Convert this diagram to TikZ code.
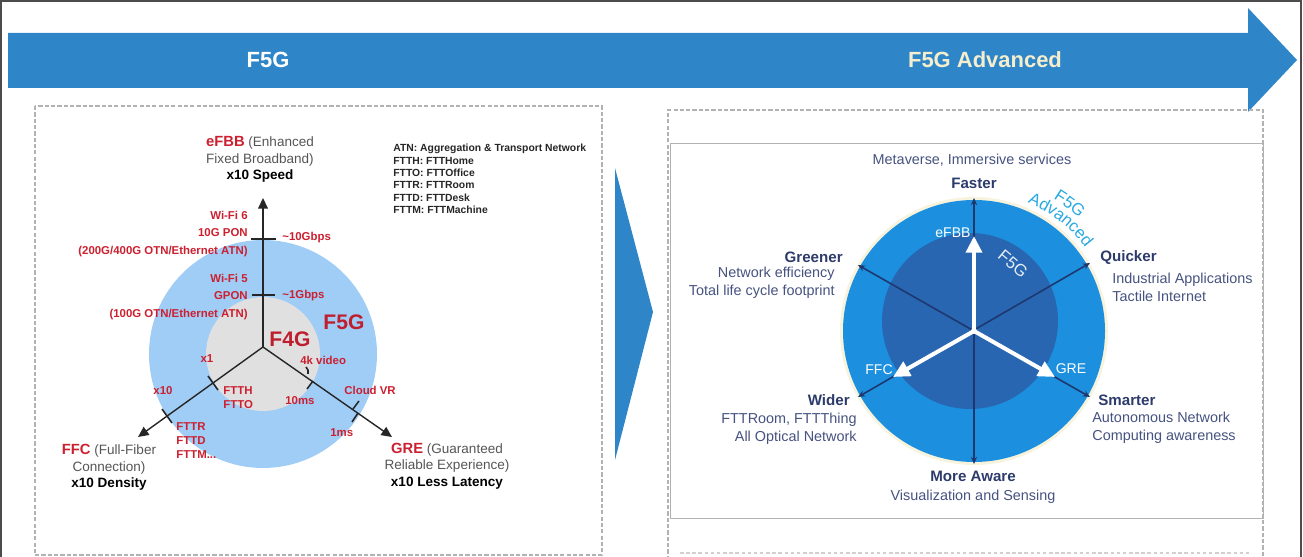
\documentclass[tikz,border=0pt]{standalone}
\usepackage{fontspec}
\setmainfont{Liberation Sans}
\usetikzlibrary{positioning}
\usetikzlibrary{arrows.meta}
\usetikzlibrary{calc}
\usetikzlibrary{decorations.text}

\definecolor{bandblue}{RGB}{46,134,200}
\definecolor{ringblue}{RGB}{160,205,246}
\definecolor{coregray}{RGB}{224,224,224}
\definecolor{labred}{RGB}{204,32,48}
\definecolor{bigred}{RGB}{190,30,45}
\definecolor{txtgray}{RGB}{85,85,85}
\definecolor{outerblue}{RGB}{28,144,222}
\definecolor{innerblue}{RGB}{40,102,178}
\definecolor{navyline}{RGB}{30,55,110}
\definecolor{headnavy}{RGB}{45,59,107}
\definecolor{bodynavy}{RGB}{70,82,128}
\definecolor{advcyan}{RGB}{40,168,224}
\definecolor{cream}{RGB}{244,237,206}
\definecolor{boxgray}{RGB}{178,178,178}

\newcommand{\fsz}[2]{\fontsize{#1}{#2}\selectfont}

\begin{document}
\begin{tikzpicture}[
        x=0.2mm, y=-0.2mm,
        lab/.style={inner sep=0pt, align=center, text=txtgray, font=\fsz{7.7}{9.4}},
        redlab/.style={inner sep=0pt, text=labred, font=\fsz{6.5}{10}\bfseries},
        biglab/.style={inner sep=0pt, text=bigred, font=\fsz{12}{14}\bfseries},
        legend/.style={inner sep=0pt, align=left, text=black!85, font=\fsz{5.9}{7}\bfseries},
        axis/.style={draw=black!85, line width=0.8pt, -{Triangle[length=6pt,width=5.5pt]}},
        tick/.style={draw=black!85, line width=0.9pt},
        dashbox/.style={draw=boxgray, line width=0.6pt, dash pattern=on 2.4pt off 1.2pt},
        head/.style={inner sep=0pt, text=headnavy, font=\fsz{8.6}{10}\bfseries},
        body/.style={inner sep=0pt, text=bodynavy, font=\fsz{8.2}{10.2}},
        navy/.style={draw=navyline, line width=0.9pt, {Stealth[length=4pt,width=3.5pt]}-{Stealth[length=4pt,width=3.5pt]}},
        white arrow/.style={draw=white, line width=2.3pt, -{Triangle[length=9.5pt,width=9pt]}},
        inlab/.style={inner sep=0pt, text=white, font=\fsz{8}{9}},
        arc text/.style={decorate, decoration={text along path, text align=center,
                         text={|\fsz{9.5}{10}\color{advcyan}|#1}}}
    ]
        \useasboundingbox (0,0) rectangle (1303,557);
        \draw[black!70, line width=0.6pt] (1,560) -- (1,1) -- (1301,1) -- (1301,560);

        % timeline band
        \fill[bandblue] (8,33) -- (1248,33) -- (1248,8) -- (1297,60) -- (1248,112) -- (1248,88) -- (8,88) -- cycle;
        \node[inner sep=0pt, text=white, font=\fsz{12.5}{14}\bfseries] (stageA) at (268,60) {F5G};
        \node[inner sep=0pt, text=cream, font=\fsz{12.5}{14}\bfseries] (stageB) at (985,60) {F5G Advanced};

        % panels
        \draw[dashbox] (35,106) rectangle (602,555);
        \draw[dashbox] (668,560) -- (668,110) -- (1263,110) -- (1263,560);
        \draw[boxgray, line width=0.5pt] (670,143) rectangle (1263,518);
        \draw[boxgray!60, line width=0.6pt, dash pattern=on 2pt off 1.5pt] (680,553) -- (1250,553);
        \fill[bandblue] (615,168) -- (653,312) -- (615,460) -- cycle;

        % F5G triangle diagram
        \fill[ringblue] (263,354) circle (114);
        \fill[coregray] (263,354) circle (57);
        \coordinate (o) at (263,347);
        \coordinate (upTip) at (263,198);
        \coordinate (ffcTip) at (138,437);
        \coordinate (greTip) at (392,437);
        \draw[axis] (o) -- (upTip);
        \draw[axis] (o) -- (ffcTip);
        \draw[axis] (o) -- (greTip);

        \draw[tick] (251,239) -- (276,239);
        \draw[tick] (252,295) -- (275,295);
        \draw[tick] (208,376) -- (218,390);
        \draw[tick] (162,409) -- (172,423);
        \draw[tick] (306,367) to[bend left=30] (308,374);
        \draw[tick] (313,381) -- (307,389);
        \draw[tick] (353,409) -- (359,401);
        \draw[tick] (358,413) -- (352,422);

        \node[biglab] (f4g) at (290,339) {F4G};
        \node[biglab] (f5g) at (344,322) {F5G};

        \node[redlab, anchor=north east, align=right] (speedHi) at (248,210.5) {Wi-Fi 6\\10G PON\\(200G/400G OTN/Ethernet ATN)};
        \node[redlab, anchor=north east, align=right] (speedLo) at (248,273.5) {Wi-Fi 5\\GPON\\(100G OTN/Ethernet ATN)};
        \node[redlab, anchor=west] (gbps10) at (282,238) {\textasciitilde10Gbps};
        \node[redlab, anchor=west] (gbps1) at (282,296) {\textasciitilde1Gbps};
        \node[redlab] (dens1) at (207,359) {x1};
        \node[redlab] (dens10) at (163,391) {x10};
        \node[redlab, anchor=north west, align=left, font=\fsz{6.5}{8}\bfseries] (ftthLab) at (223,386.5) {FTTH\\FTTO};
        \node[redlab, anchor=north west, align=left, font=\fsz{6.5}{8}\bfseries] (fttrLab) at (176,422.5) {FTTR\\FTTD\\FTTM...};
        \node[redlab, anchor=west] (video) at (300,360) {4k video};
        \node[redlab, anchor=west] (ms10) at (285,401) {10ms};
        \node[redlab, anchor=west] (cloudvr) at (344,390) {Cloud VR};
        \node[redlab, anchor=west] (ms1) at (330,433) {1ms};

        \node[lab, anchor=north] (efbb) at (260,136) {{\color{labred}\fsz{8.4}{9.4}\bfseries eFBB} (Enhanced\\Fixed Broadband)\\{\color{black}\bfseries x10 Speed}};
        \node[lab, anchor=north] (ffc) at (109,444) {{\color{labred}\fsz{8.4}{9.4}\bfseries FFC} (Full-Fiber\\Connection)\\{\color{black}\bfseries x10 Density}};
        \node[lab, anchor=north] (gre) at (447,442.5) {{\color{labred}\fsz{8.4}{9.4}\bfseries GRE} (Guaranteed\\Reliable Experience)\\{\color{black}\bfseries x10 Less Latency}};

        \node[legend, anchor=north west] (abbrev) at (393,144) {ATN: Aggregation \& Transport Network\\FTTH: FTTHome\\FTTO: FTTOffice\\FTTR: FTTRoom\\FTTD: FTTDesk\\FTTM: FTTMachine};

        % F5G Advanced wheel
        \coordinate (c) at (974,331);
        \fill[cream!70] (c) circle (134);
        \fill[outerblue] (c) circle (131);
        \fill[innerblue] (970,321) circle (88);
        \coordinate (fasterTip) at (974,198);
        \coordinate (awareTip) at (974,464);
        \coordinate (greenTip) at (858,265);
        \coordinate (smartTip) at (1090,397);
        \coordinate (quickTip) at (1090,263);
        \coordinate (widerTip) at (858,397);
        \draw[navy] (fasterTip) -- (awareTip);
        \draw[navy] (greenTip) -- (smartTip);
        \draw[navy] (quickTip) -- (widerTip);
        \coordinate (efbbEnd) at (974,236);
        \coordinate (ffcEnd) at (893,377);
        \coordinate (greEnd) at (1055,377);
        \draw[white arrow] (c) -- (efbbEnd);
        \draw[white arrow] (c) -- (ffcEnd);
        \draw[white arrow] (c) -- (greEnd);
        \fill[white] (c) circle (3);

        \node[inlab] (efbbIn) at (953,233) {eFBB};
        \node[inlab] (ffcIn) at (879,370) {FFC};
        \node[inlab] (greIn) at (1071,369) {GRE};
        \node[inner sep=0pt, text=white!88!innerblue, font=\fsz{9.5}{10}, rotate=-40] (f5gIn) at (1013,264) {F5G};
        \path[arc text=F5G] ($(c)+(-62:154)$) arc[start angle=-62, end angle=-44, radius=154];
        \path[arc text=Advanced] ($(c)+(-72:139)$) arc[start angle=-72, end angle=-32, radius=139];

        \node[body] (meta) at (972,160) {Metaverse, Immersive services};
        \node[head] (faster) at (974,183) {Faster};
        \node[head, anchor=east] (greener) at (843,257) {Greener};
        \node[body, anchor=north east, align=right] (greenerTxt) at (835,267) {Network efficiency\\Total life cycle footprint};
        \node[head, anchor=west] (quicker) at (1100,258) {Quicker};
        \node[body, anchor=north west, align=left] (quickerTxt) at (1112,273) {Industrial Applications\\Tactile Internet};
        \node[head, anchor=east] (wider) at (850,400) {Wider};
        \node[body, anchor=north east, align=right] (widerTxt) at (857,413) {FTTRoom, FTTThing\\All Optical Network};
        \node[head, anchor=west] (smarter) at (1098,400) {Smarter};
        \node[body, anchor=north west, align=left] (smarterTxt) at (1092,412) {Autonomous Network\\Computing awareness};
        \node[head] (aware) at (973,476) {More Aware};
        \node[body] (awareTxt) at (973,497) {Visualization and Sensing};
    \end{tikzpicture}
\end{document}
